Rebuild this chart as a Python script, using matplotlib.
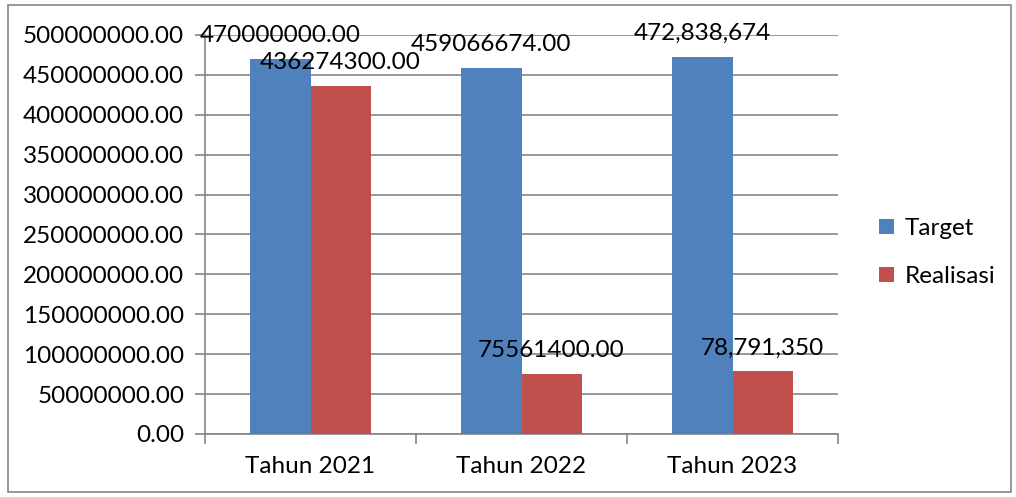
import matplotlib.pyplot as plt
import numpy as np
from matplotlib.patches import Rectangle

plt.rcParams["font.family"] = ["Lato", "DejaVu Sans"]

categories = ["Tahun 2021", "Tahun 2022", "Tahun 2023"]
target = [470000000, 459066674, 472838674]
realisasi = [436274300, 75561400, 78791350]
target_labels = ["470000000.00", "459066674.00", "472,838,674"]
realisasi_labels = ["436274300.00", "75561400.00", "78,791,350"]
yticks = np.arange(0, 500000001, 50000000)

BLUE = "#4F81BD"
RED = "#C0504D"
GRID = "#868686"
FS = 17.5

fig = plt.figure(figsize=(10.16, 4.97), dpi=100)
fig.patches.append(Rectangle((0.008, 0.01), 0.987, 0.98, transform=fig.transFigure,
                             fill=False, edgecolor=GRID, linewidth=1.2))
ax = fig.add_axes([0.2018, 0.1268, 0.623, 0.8028])

x = np.arange(len(categories))
w = 0.285
b1 = ax.bar(x - w / 2, target, w, color=BLUE, label="Target", zorder=3)
b2 = ax.bar(x + w / 2, realisasi, w, color=RED, label="Realisasi", zorder=3)

for bars, labels in ((b1, target_labels), (b2, realisasi_labels)):
    for rect, lab in zip(bars, labels):
        ax.annotate(lab, (rect.get_x() + rect.get_width() / 2, rect.get_height()),
                    xytext=(0, 9), textcoords="offset points",
                    ha="center", va="bottom", fontsize=FS, zorder=4)

ax.set_ylim(0, 500000000)
ax.set_xlim(-0.5, len(categories) - 0.5)
ax.set_yticks(yticks)
ax.set_yticklabels([f"{v:.2f}" for v in yticks], fontsize=FS)
ax.yaxis.grid(True, color=GRID, linewidth=1.2, zorder=0)

ax.set_xticks(np.arange(len(categories) + 1) - 0.5)
ax.set_xticklabels([])
ax.set_xticks(x, minor=True)
ax.set_xticklabels(categories, minor=True, fontsize=FS)
ax.tick_params(axis="x", which="minor", length=0, pad=16)
ax.tick_params(axis="both", which="major", length=7, width=1.2, color=GRID)
ax.tick_params(axis="y", pad=8)

for s in ("top", "right"):
    ax.spines[s].set_visible(False)
for s in ("left", "bottom"):
    ax.spines[s].set_color(GRID)
    ax.spines[s].set_linewidth(1.2)

ax.legend(loc="center left", bbox_to_anchor=(1.0, 0.455), frameon=False,
          fontsize=FS, handlelength=0.6, handleheight=0.6, handletextpad=0.45,
          labelspacing=1.1, borderaxespad=1.3)

fig.savefig("out.png", dpi=100)
